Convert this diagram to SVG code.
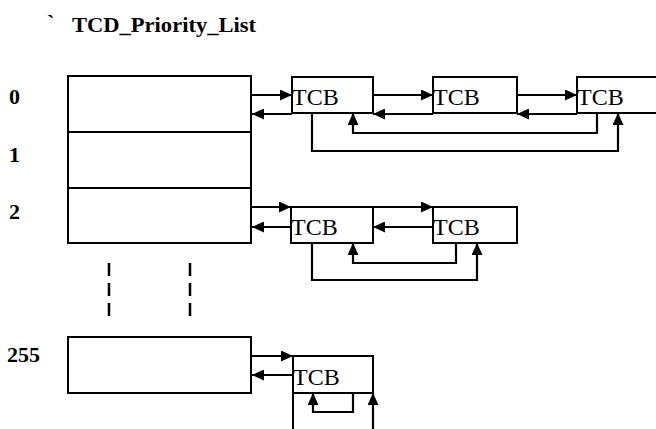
<svg xmlns="http://www.w3.org/2000/svg" width="656" height="429" viewBox="0 0 656 429">
<style>
.box{fill:#fff;stroke:#000;stroke-width:2}
.ln{fill:none;stroke:#000;stroke-width:2}
.arr{fill:none;stroke:#000;stroke-width:2.2;marker-end:url(#ah)}
.lbl{font-family:"Liberation Serif","Times New Roman",serif;font-weight:bold;font-size:22px;fill:#000}
.tcb{font-family:"Liberation Serif","Times New Roman",serif;font-size:24px;fill:#000}
.dash{fill:none;stroke:#000;stroke-width:2.5;stroke-dasharray:13 7}
</style>
<defs>
<marker id="ah" markerUnits="userSpaceOnUse" markerWidth="13" markerHeight="11" refX="12" refY="5.5" orient="auto">
<path d="M0,0 L12,5.5 L0,11 z" fill="#000"/>
</marker>
</defs>
<rect width="656" height="429" fill="#fff"/>
<g id="title">
<text x="47" y="30" class="lbl" font-size="22">`</text>
<text x="72" y="32" class="lbl" font-size="25" textLength="184" lengthAdjust="spacingAndGlyphs">TCD_Priority_List</text>
</g>
<g id="labels">
<text x="9" y="104" class="lbl">0</text>
<text x="9" y="162" class="lbl">1</text>
<text x="9" y="219" class="lbl">2</text>
<text x="7" y="362" class="lbl">255</text>
</g>
<g id="table">
<rect x="68" y="76" width="183" height="167" class="box"/>
<line x1="68" y1="132" x2="251" y2="132" class="ln"/>
<line x1="68" y1="188" x2="251" y2="188" class="ln"/>
</g>
<g id="table255">
<rect x="68" y="337" width="183" height="56" class="box"/>
</g>
<g id="dashes">
<line x1="109" y1="263" x2="109" y2="316" class="dash"/>
<line x1="190" y1="263" x2="190" y2="316" class="dash"/>
</g>
<g id="tcb0a"><rect x="292" y="77" width="81" height="36" class="box"/><text x="292" y="105" class="tcb">TCB</text></g>
<g id="tcb0b"><rect x="433" y="77" width="84" height="36" class="box"/><text x="433" y="105" class="tcb">TCB</text></g>
<g id="tcb0c"><path d="M660,77 H577 V113 H660" class="box"/><text x="577" y="105" class="tcb">TCB</text></g>
<g id="tcb2a"><rect x="291" y="207" width="82" height="36" class="box"/><text x="291" y="235" class="tcb">TCB</text></g>
<g id="tcb2b"><rect x="433" y="207" width="84" height="36" class="box"/><text x="433" y="235" class="tcb">TCB</text></g>
<g id="tcb255"><path d="M293,432 V356 H373 V393 H293" class="box"/><text x="293" y="385" class="tcb">TCB</text></g>
<g id="connectors">
<path d="M251,95 H292" class="arr"/>
<path d="M292,114 H252" class="arr"/>
<path d="M373,95 H433" class="arr"/>
<path d="M433,114 H373" class="arr"/>
<path d="M517,95 H577" class="arr"/>
<path d="M577,114 H517" class="arr"/>
<path d="M597,114 V133 H353 V113" class="arr"/>
<path d="M312,113 V151 H618 V113" class="arr"/>
<path d="M251,207 H291" class="arr"/>
<path d="M373,207 H433" class="arr"/>
<path d="M291,227 H252" class="arr"/>
<path d="M433,227 H373" class="arr"/>
<path d="M456,243 V263 H353 V243" class="arr"/>
<path d="M312,243 V280 H477 V243" class="arr"/>
<path d="M251,356 H293" class="arr"/>
<path d="M293,375 H252" class="arr"/>
<path d="M353,393 V412 H313 V393" class="arr"/>
<path d="M373,432 V393" class="arr"/>
</g>
</svg>
